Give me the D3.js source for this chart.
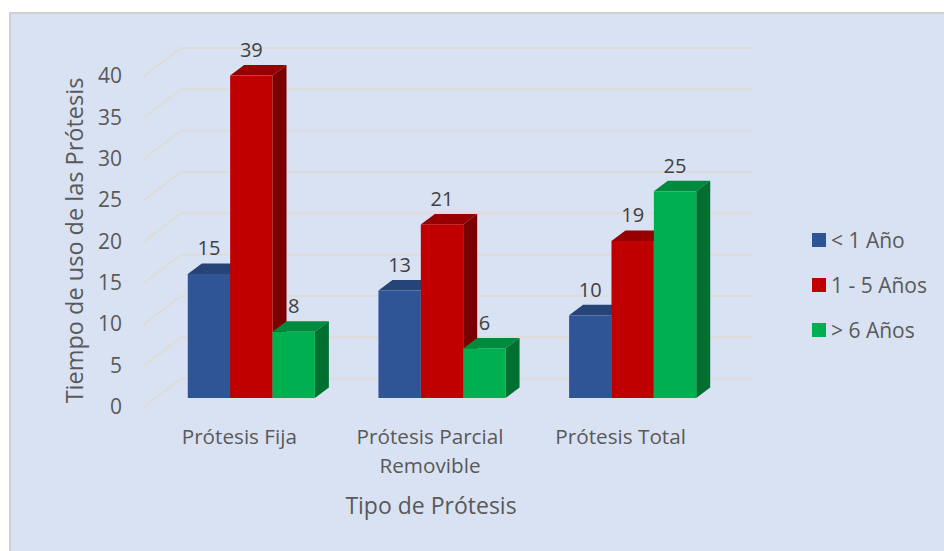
<!DOCTYPE html>
<html>
<head>
<meta charset="utf-8">
<script src="https://cdn.jsdelivr.net/npm/d3@7/dist/d3.min.js"></script>
<style>
html,body{margin:0;padding:0;background:#fff;}
svg{display:block;}
text{font-family:"Open Sans",sans-serif;}
</style>
</head>
<body>
<svg id="chart" width="944" height="551"></svg>
<script>
const categories = ["Prótesis Fija", "Prótesis Parcial Removible", "Prótesis Total"];
const seriesNames = ["< 1 Año", "1 - 5 Años", "> 6 Años"];
const lessThanOne = [15, 13, 10];
const oneToFive = [39, 21, 19];
const moreThanSix = [8, 6, 25];
const yTicks = [0, 5, 10, 15, 20, 25, 30, 35, 40];
const seriesValues = [lessThanOne, oneToFive, moreThanSix];
const colors = [
  {front:"#2f5597", top:"#264478", side:"#203864"},
  {front:"#c00000", top:"#960000", side:"#7a0000"},
  {front:"#00b050", top:"#008a3e", side:"#007030"}
];

const svg = d3.select("#chart");
svg.append("rect").attr("x",9).attr("y",12).attr("width",935).attr("height",539)
  .attr("fill","#d9e2f3");
svg.append("path").attr("d","M10 551V13H944").attr("fill","none").attr("stroke","#d0d0d0").attr("stroke-width",2);

const x = d3.scaleBand().domain(categories).range([144,716]);
const y = d3.scaleLinear().domain([0,40]).range([406.7,76]);
const inner = d3.scaleBand().domain(seriesNames).range([0,x.bandwidth()]).paddingOuter(0.75);

const wallDx = 37, wallDy = -28, wallW = 572;
const barShiftX = 12, barShiftY = -8.7, depthX = 14, depthY = -10.5;

// gridlines on side wall and back wall
const grid = svg.append("g").attr("fill","none").attr("stroke","#dedcdb").attr("stroke-width",2);
yTicks.forEach(t=>{
  const p = d3.path();
  p.moveTo(x.range()[0], y(t));
  p.lineTo(x.range()[0]+wallDx, y(t)+wallDy);
  p.lineTo(x.range()[0]+wallDx+wallW, y(t)+wallDy);
  grid.append("path").attr("d",p.toString());
});

// y axis labels
const yAxis = d3.axisLeft(y).tickValues(yTicks).tickSize(0).tickPadding(22);
const gy = svg.append("g").attr("transform","translate(144,0)").call(yAxis);
gy.select(".domain").remove();
gy.selectAll("text").attr("fill","#595959").style("font-size","21px").style("font-family",'"Open Sans",sans-serif');

// bars
categories.forEach((cat,ci)=>{
  seriesNames.forEach((s,si)=>{
    const v = seriesValues[si][ci];
    const x0 = x(cat)+inner(s)+barShiftX, w = inner.bandwidth();
    const yb = y(0)+barShiftY, yt = y(v)+barShiftY;
    const c = colors[si];
    const g = svg.append("g");
    g.append("polygon").attr("fill",c.top)
      .attr("points",[[x0,yt],[x0+depthX,yt+depthY],[x0+w+depthX,yt+depthY],[x0+w,yt]].join(" "));
    g.append("polygon").attr("fill",c.side)
      .attr("points",[[x0+w,yt],[x0+w+depthX,yt+depthY],[x0+w+depthX,yb+depthY],[x0+w,yb]].join(" "));
    g.append("rect").attr("x",x0).attr("y",yt).attr("width",w).attr("height",yb-yt)
      .attr("fill",c.front);
  });
});

// data labels
categories.forEach((cat,ci)=>{
  seriesNames.forEach((s,si)=>{
    const v = seriesValues[si][ci];
    svg.append("text")
      .attr("x",x(cat)+inner(s)+barShiftX+inner.bandwidth()/2)
      .attr("y",y(v)+barShiftY-26)
      .attr("dy","0.36em").attr("text-anchor","middle")
      .attr("fill","#404040").style("font-size","20px").text(v);
  });
});

// category labels
const catLines = {"Prótesis Parcial Removible":["Prótesis Parcial","Removible"]};
categories.forEach(cat=>{
  const lines = catLines[cat] || [cat];
  lines.forEach((l,i)=>{
    svg.append("text").attr("x",x(cat)+x.bandwidth()/2).attr("y",437+i*29)
      .attr("dy","0.36em").attr("text-anchor","middle")
      .attr("fill","#595959").style("font-size","20.7px").text(l);
  });
});

// axis titles
svg.append("text").attr("x",431).attr("y",506).attr("dy","0.36em").attr("text-anchor","middle")
  .attr("fill","#595959").style("font-size","23px").text("Tipo de Prótesis");
svg.append("text").attr("transform","translate(75,240.5) rotate(-90)").attr("dy","0.36em").attr("text-anchor","middle")
  .attr("fill","#595959").style("font-size","23.5px").text("Tiempo de uso de las Prótesis");

// legend
const legendY = d3.scalePoint().domain(seriesNames).range([240,330]);
seriesNames.forEach((s,i)=>{
  svg.append("rect").attr("x",812).attr("y",legendY(s)-7).attr("width",14).attr("height",14).attr("fill",colors[i].front);
  svg.append("text").attr("x",831).attr("y",legendY(s)).attr("dy","0.36em")
    .attr("fill","#595959").style("font-size","21px").text(s);
});
</script>
</body>
</html>
